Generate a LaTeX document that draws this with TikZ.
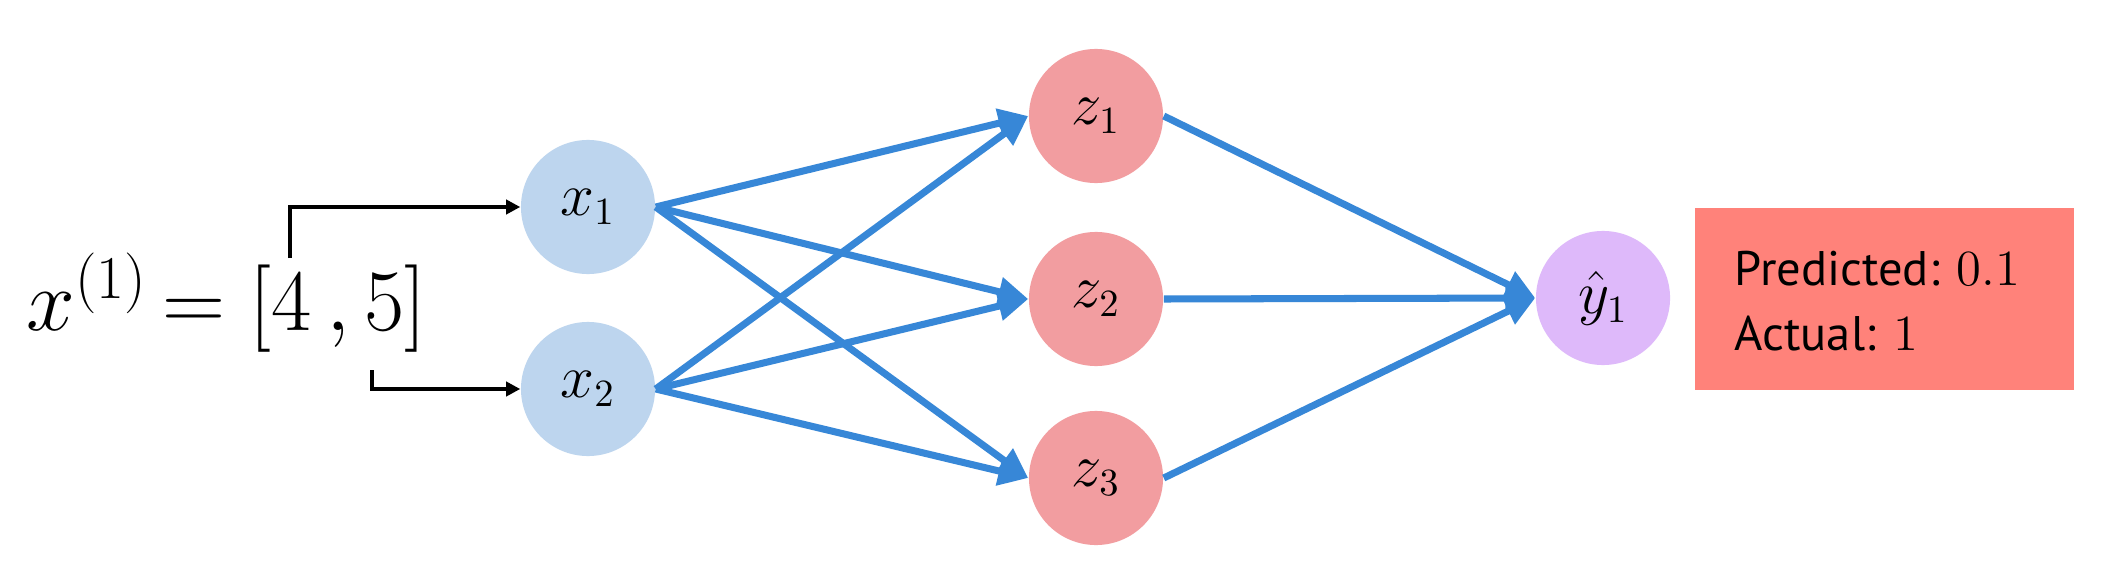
\documentclass[tikz,border=0pt]{standalone}
\usepackage{fontspec}
\newfontfamily\boxfont{PT Sans}
\usetikzlibrary{arrows.meta}
\definecolor{nodeblue}{RGB}{189,213,238}
\definecolor{nodepink}{RGB}{242,157,160}
\definecolor{nodepurple}{RGB}{222,185,250}
\definecolor{boxred}{RGB}{255,130,122}
\definecolor{edgeblue}{RGB}{55,135,215}
\begin{document}
\begin{tikzpicture}[x=0.01cm,y=-0.01cm,
  neuron/.style={circle,minimum size=1.34cm,inner sep=0pt,font=\fontsize{16}{19}\selectfont},
  inneuron/.style={neuron,fill=nodeblue},
  hidneuron/.style={neuron,fill=nodepink},
  outneuron/.style={neuron,fill=nodepurple},
  wire/.style={draw=edgeblue,line width=2pt,-{Triangle[length=8.5pt,width=8pt]}},
  feed/.style={draw=black,line width=1.1pt,-{Triangle[length=4pt,width=4pt]}},
  resultbox/.style={rectangle,fill=boxred,minimum width=3.79cm,minimum height=1.82cm,inner sep=0pt},
  boxtext/.style={anchor=base west,inner sep=0pt,font=\boxfont\fontsize{13.8}{16}\selectfont}
]
\useasboundingbox (0,0) rectangle (2119,576);
\fill[white] (0,0) rectangle (2119,576);

% equation
\node[anchor=base west,inner sep=0pt,font=\fontsize{23.5}{28}\selectfont] (eq) at (26,330) {$x^{(1)} \mkern-2mu= [4\,,5]$};

% nodes
\node[inneuron] (x1) at (588,207) {$x_1$};
\node[inneuron] (x2) at (588,389) {$x_2$};
\node[hidneuron] (z1) at (1096,116) {$z_1$};
\node[hidneuron] (z2) at (1096,299) {$z_2$};
\node[hidneuron] (z3) at (1096,478) {$z_3$};
\node[outneuron] (y1) at (1603,298) {$\hat{y}_1$};

% result box
\node[resultbox] (box) at (1884.5,299) {};
\node[boxtext] (pred) at (1734,285) {Predicted: $0.1$};
\node[boxtext] (act) at (1734,350) {Actual: $1$};

% input feeds
\coordinate (s1) at (290,258);
\coordinate (s2) at (372,370);
\draw[feed] (s1) |- (x1.west);
\draw[feed] (s2) |- (x2.west);

% connections
\foreach \a in {x1,x2}{
  \foreach \b in {z1,z2,z3}{
    \draw[wire] (\a.east) -- (\b.west);
  }
}
\foreach \b in {z1,z2,z3}{
  \draw[wire] (\b.east) -- (y1.west);
}
\end{tikzpicture}
\end{document}
